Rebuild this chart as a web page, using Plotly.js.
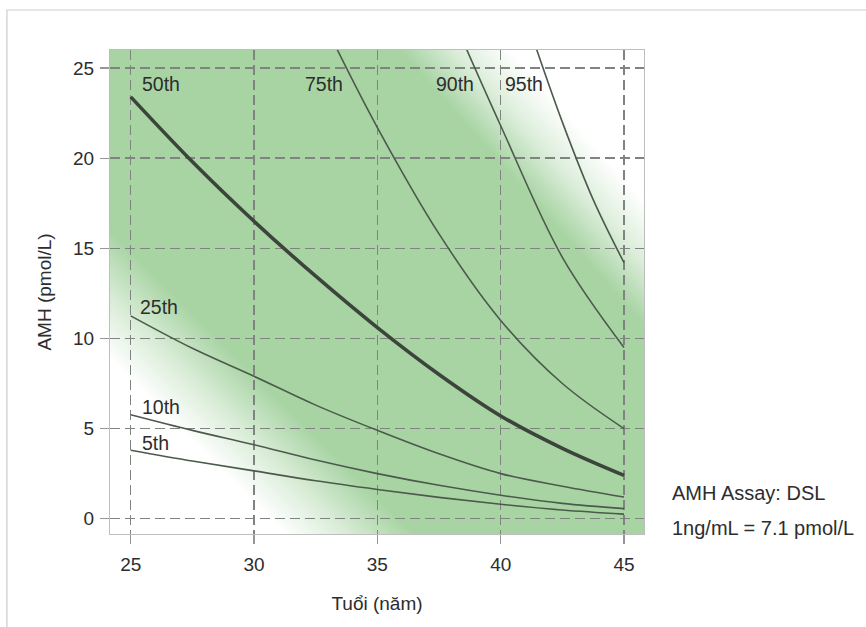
<!DOCTYPE html>
<html>
<head>
<meta charset="utf-8">
<script src="https://cdn.plot.ly/plotly-3.0.1.min.js"></script>
<style>html,body{margin:0;padding:0;background:#fff;}#chart{width:866px;height:627px;}</style>
</head>
<body>
<div id="chart"></div>
<script>
// ---- data ----
const ages = [25, 27.5, 30, 32.5, 35, 37.5, 40, 42.5, 45];
const p5  = [3.8, 3.2, 2.65, 2.1, 1.62, 1.18, 0.8, 0.48, 0.25];
const p10 = [5.77, 4.9, 4.1, 3.25, 2.5, 1.85, 1.3, 0.85, 0.56];
const p25 = [11.25, 9.45, 7.9, 6.3, 4.9, 3.6, 2.5, 1.8, 1.2];
const p50 = [23.4, 19.8, 16.5, 13.45, 10.6, 8.0, 5.7, 3.9, 2.4];
const ages75 = [33.36, 35, 37.5, 40, 42.5, 45];
const p75 = [26.06, 21.7, 15.8, 11.0, 7.5, 5.0];
const ages90 = [38.61, 40, 42.5, 45];
const p90 = [26.06, 21.8, 14.5, 9.5];
const ages95 = [41.45, 42.5, 43.75, 45];
const p95 = [26.06, 22.0, 17.7, 14.2];

const labelNames = ['50th', '75th', '90th', '95th', '25th', '10th', '5th'];
const labelX = [25.36, 32.0, 37.3, 40.1, 25.28, 25.36, 25.36];
const labelY = [24.1, 24.1, 24.1, 24.1, 11.75, 6.2, 4.2];

const xTicks = [25, 30, 35, 40, 45];
const yTicks = [0, 5, 10, 15, 20, 25];
const noteLines = ['AMH Assay: DSL', '1ng/mL = 7.1 pmol/L'];

// ---- styling ----
const thin = {color: 'rgb(76,90,76)', width: 1.6, shape: 'spline', smoothing: 1};
const thick = {color: 'rgb(60,68,60)', width: 3.6, shape: 'spline', smoothing: 1};
function tr(x, y, line) { return {x: x, y: y, type: 'scatter', mode: 'lines', line: line, hoverinfo: 'skip', showlegend: false}; }

const data = [
  tr(ages, p5, thin), tr(ages, p10, thin), tr(ages, p25, thin),
  tr(ages75, p75, thin), tr(ages90, p90, thin), tr(ages95, p95, thin),
  tr(ages, p50, thick)
];

// background: green with white fades in lower-left and upper-right corners
const W = 534, H = 484;
const svg = '<svg xmlns="http://www.w3.org/2000/svg" width="' + W + '" height="' + H + '" viewBox="0 0 ' + W + ' ' + H + '" preserveAspectRatio="none">' +
  '<defs>' +
  '<linearGradient id="a" gradientUnits="userSpaceOnUse" x1="20" y1="200" x2="-45" y2="265">' +
  '<stop offset="0" stop-color="#ffffff" stop-opacity="0"/><stop offset="0.5" stop-color="#ffffff" stop-opacity="0.55"/><stop offset="1" stop-color="#ffffff" stop-opacity="1"/></linearGradient>' +
  '<linearGradient id="b" gradientUnits="userSpaceOnUse" x1="290" y1="0" x2="352" y2="-55">' +
  '<stop offset="0" stop-color="#ffffff" stop-opacity="0"/><stop offset="0.5" stop-color="#ffffff" stop-opacity="0.6"/><stop offset="1" stop-color="#ffffff" stop-opacity="1"/></linearGradient>' +
  '</defs>' +
  '<rect x="0" y="0" width="' + W + '" height="' + H + '" fill="#a8d4a4"/>' +
  '<rect x="0" y="0" width="' + W + '" height="' + H + '" fill="url(#a)"/>' +
  '<rect x="0" y="0" width="' + W + '" height="' + H + '" fill="url(#b)"/>' +
  '</svg>';
const bgSrc = 'data:image/svg+xml;charset=utf-8,' + encodeURIComponent(svg);

const txtColor = 'rgb(45,45,45)';
const fontFam = 'Arial, "Liberation Sans", sans-serif';

const annotations = labelNames.map((t, i) => ({
  x: labelX[i], y: labelY[i], xref: 'x', yref: 'y', text: t, showarrow: false,
  xanchor: 'left', yanchor: 'middle', font: {size: 19.5, color: txtColor, family: fontFam}
}));
annotations.push({x: 1.0487, y: 0.085, xref: 'paper', yref: 'paper', text: noteLines[0], showarrow: false,
  xanchor: 'left', yanchor: 'middle', font: {size: 20, color: txtColor, family: fontFam}});
annotations.push({x: 1.0487, y: 0.0124, xref: 'paper', yref: 'paper', text: noteLines[1], showarrow: false,
  xanchor: 'left', yanchor: 'middle', font: {size: 20, color: txtColor, family: fontFam}});

const axisCommon = {
  showgrid: true, gridcolor: 'rgb(128,132,128)', gridwidth: 1.5, griddash: '10px,5px',
  zeroline: false, showline: true, mirror: true, linecolor: 'rgb(190,190,190)', linewidth: 1,
  ticks: 'outside', ticklen: 9, tickwidth: 1.3, tickcolor: 'rgb(150,150,150)',
  tickfont: {size: 19, color: txtColor, family: fontFam}
};

const layout = {
  width: 866, height: 627,
  margin: {l: 110, r: 222, t: 50, b: 93},
  paper_bgcolor: '#ffffff', plot_bgcolor: '#a8d4a4',
  font: {family: fontFam, color: txtColor},
  xaxis: Object.assign({}, axisCommon, {
    range: [24.16, 45.81], tickvals: xTicks, ticktext: xTicks.map(String), ticklabelstandoff: 4,
    title: {text: 'Tuổi (năm)', font: {size: 19, color: txtColor, family: fontFam}, standoff: 22}
  }),
  yaxis: Object.assign({}, axisCommon, {
    range: [-0.85, 26], tickvals: yTicks, ticktext: yTicks.map(String), ticklabelstandoff: 2,
    title: {text: 'AMH (pmol/L)', font: {size: 19, color: txtColor, family: fontFam}, standoff: 16}
  }),
  images: [{source: bgSrc, xref: 'paper', yref: 'paper', x: 0, y: 1, sizex: 1, sizey: 1,
    sizing: 'stretch', xanchor: 'left', yanchor: 'top', layer: 'below'}],
  shapes: [{type: 'rect', xref: 'paper', yref: 'paper', x0: -0.193, x1: 1.55, y0: -0.3, y1: 1.0826,
    line: {color: 'rgb(205,205,205)', width: 1.2}, fillcolor: 'rgba(0,0,0,0)', layer: 'below'}],
  annotations: annotations
};

Plotly.newPlot('chart', data, layout, {displayModeBar: false, staticPlot: true});
</script>
</body>
</html>
